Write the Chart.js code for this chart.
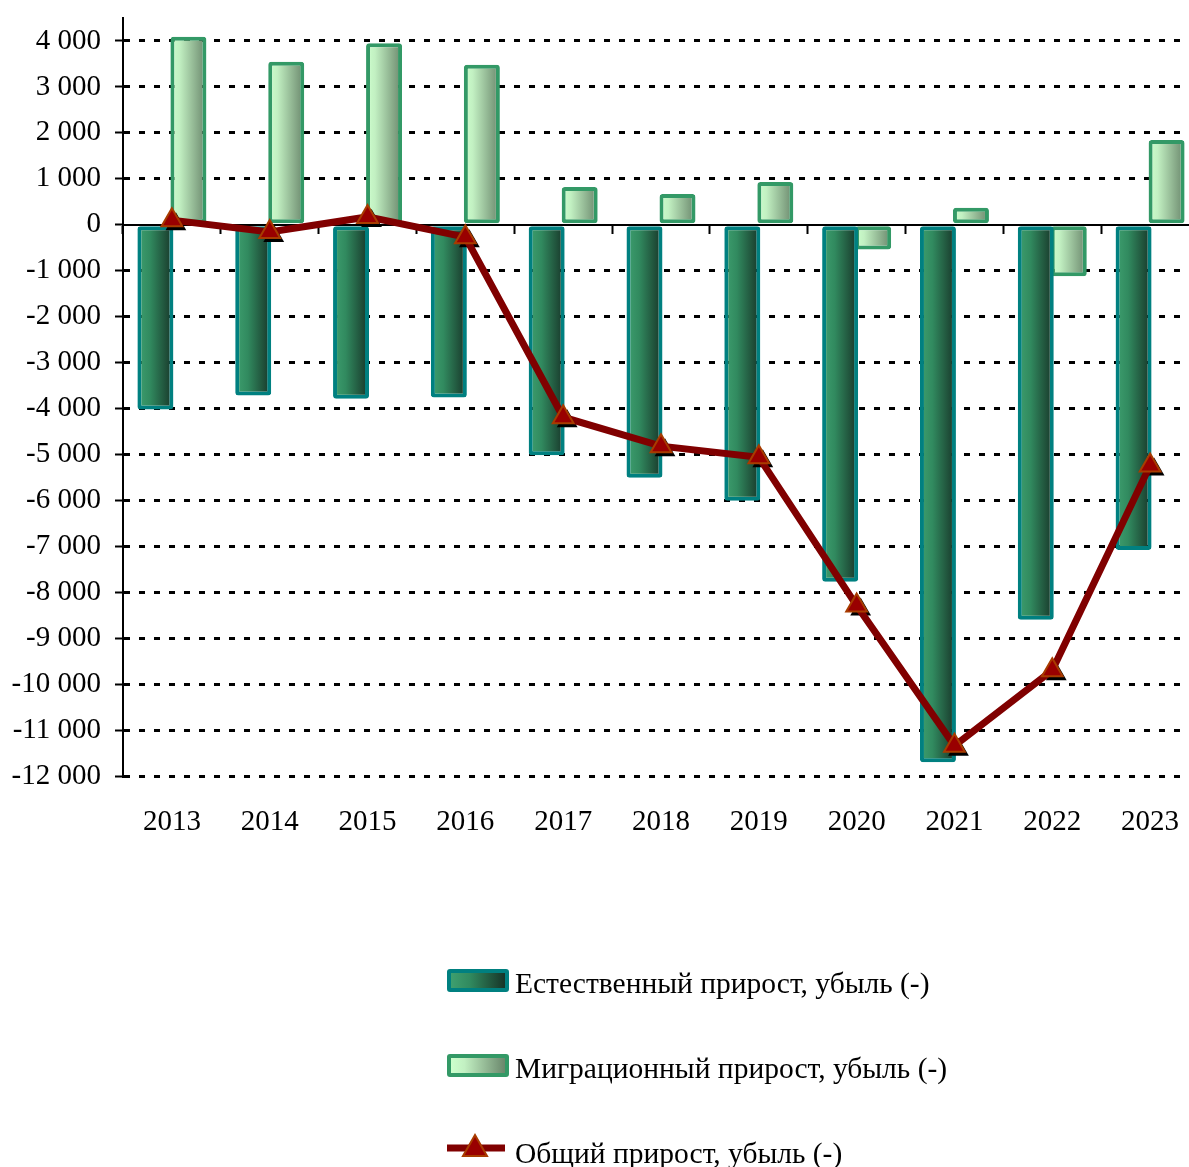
<!DOCTYPE html>
<html lang="ru">
<head>
<meta charset="utf-8">
<title>Прирост, убыль населения</title>
<script src="https://cdn.jsdelivr.net/npm/chart.js@4.4.1/dist/chart.umd.min.js"></script>
<style>
  html, body { margin: 0; padding: 0; background: #fff; overflow: hidden; }
  body { width: 1189px; height: 1167px; position: relative; font-family: 'Liberation Serif', 'Times New Roman', serif; }
  #chartBox { position: absolute; left: 0; top: 0; width: 1200px; height: 860px; }
  #legend { position: absolute; left: 0; top: 0; width: 1189px; height: 1167px; pointer-events: none; }
  .lg-swatch { position: absolute; box-sizing: border-box; border: 4px solid; border-radius: 3px; }
  .lg-text { position: absolute; font-size: 29.5px; line-height: 30px; color: #000; white-space: nowrap; }
  .lg-svg { position: absolute; overflow: visible; }
</style>
</head>
<body>
<div id="chartBox"><canvas id="chart" width="1200" height="860"></canvas></div>
<div id="legend"></div>
<script>
'use strict';

// ── Data ───────────────────────────────────────────────────────────────────────
const years = ['2013', '2014', '2015', '2016', '2017', '2018', '2019', '2020', '2021', '2022', '2023'];
const natural = [-4020, -3720, -3790, -3760, -5020, -5510, -6010, -7770, -11700, -8600, -7080];
const migration = [4090, 3550, 3950, 3480, 820, 670, 930, -540, 370, -1120, 1845];
const total = [100, -160, 170, -270, -4190, -4820, -5060, -8290, -11340, -9700, -5240];
const yTicks = [-12000, -11000, -10000, -9000, -8000, -7000, -6000, -5000, -4000, -3000, -2000, -1000, 0, 1000, 2000, 3000, 4000];
const seriesNames = [
  'Естественный прирост, убыль (-)',
  'Миграционный прирост, убыль (-)',
  'Общий прирост, убыль (-)'
];

// ── Style ──────────────────────────────────────────────────────────────────────
const FONT = "'Liberation Serif', 'Times New Roman', serif";
const FONT_SIZE = 29;
const NAT_STOPS = [[0, '#3e9f6f'], [0.35, '#318a5f'], [1, '#173428']];
const MIG_STOPS = [[0, '#ccffcc'], [0.25, '#c2f0c2'], [1, '#6a876c']];

function fmtThousands(v) {
  const s = Math.abs(v).toString().replace(/\B(?=(\d{3})+(?!\d))/g, ' ');
  return (v < 0 ? '-' : '') + s;
}

// horizontal gradient across each bar, once the bar has a position
function barGradient(stops, fallback) {
  return ctx => {
    const el = ctx.element;
    if (!el || el.x == null || !el.width) return fallback;
    const c = ctx.chart.ctx;
    const g = c.createLinearGradient(el.x - el.width / 2, 0, el.x + el.width / 2, 0);
    stops.forEach(([o, col]) => g.addColorStop(o, col));
    return g;
  };
}

function triPath(ctx, x, y, r) {
  ctx.beginPath();
  for (let k = 0; k < 3; k++) {
    const a = k * 2 * Math.PI / 3;
    const px = x + Math.sin(a) * r, py = y - Math.cos(a) * r;
    if (k === 0) ctx.moveTo(px, py); else ctx.lineTo(px, py);
  }
  ctx.closePath();
}

// black drop shadow under the triangle markers
const markerShadow = {
  id: 'markerShadow',
  beforeDatasetDraw(chart, args) {
    if (args.index !== 2) return;
    const ctx = chart.ctx;
    ctx.save();
    ctx.fillStyle = '#000';
    args.meta.data.forEach(pt => {
      triPath(ctx, pt.x + 4, pt.y + 4, 12);
      ctx.fill();
    });
    ctx.restore();
  }
};

// scales should not push the plot area in; layout.padding decides it
function noScalePadding(s) {
  s.paddingTop = 0; s.paddingBottom = 0; s.paddingLeft = 0; s.paddingRight = 0;
}

// ── Chart ──────────────────────────────────────────────────────────────────────
const chart = new Chart(document.getElementById('chart'), {
  type: 'bar',
  data: {
    labels: years,
    datasets: [
      {
        label: seriesNames[0],
        data: natural,
        xAxisID: 'x',
        order: 1,
        backgroundColor: barGradient(NAT_STOPS, '#2a7a52'),
        borderColor: '#008080',
        borderWidth: 4,
        borderRadius: 3,
        borderSkipped: false,
        categoryPercentage: 0.675,
        barPercentage: 1.09,
      },
      {
        label: seriesNames[1],
        data: migration,
        xAxisID: 'x',
        order: 1,
        backgroundColor: barGradient(MIG_STOPS, '#a8d8a8'),
        borderColor: '#339966',
        borderWidth: 4,
        borderRadius: 3,
        borderSkipped: false,
        categoryPercentage: 0.675,
        barPercentage: 1.09,
      },
      {
        type: 'line',
        label: seriesNames[2],
        data: total,
        xAxisID: 'x',
        order: 0,
        borderColor: '#800000',
        borderWidth: 7,
        tension: 0,
        pointStyle: 'triangle',
        pointRadius: 12,
        pointBackgroundColor: '#990000',
        pointBorderColor: '#a83c00',
        pointBorderWidth: 2,
      },
    ],
  },
  options: {
    responsive: false,
    animation: false,
    layout: { autoPadding: false, padding: { top: 18, right: 1, bottom: 0, left: 0 } },
    plugins: {
      legend: { display: false },
      tooltip: { enabled: false },
    },
    scales: {
      x: {
        type: 'category',
        position: 'bottom',
        offset: true,
        // invisible tick marks give the label gap without widening side padding
        grid: { display: false, drawTicks: true, tickLength: 29 },
        border: { display: false },
        ticks: {
          padding: 0,
          color: '#000',
          maxRotation: 0,
          autoSkip: false,
          font: { family: FONT, size: FONT_SIZE },
        },
        afterFit: s => { s.height = 84; noScalePadding(s); },
      },
      x0: {
        type: 'category',
        position: { y: 0 },
        offset: true,
        z: 1,
        grid: {
          display: true,
          offset: true,
          drawOnChartArea: false,
          drawTicks: true,
          tickLength: 8,
          tickColor: '#000',
          tickWidth: 2,
        },
        border: { display: true, color: '#000', width: 2 },
        ticks: { display: false },
        afterFit: noScalePadding,
      },
      y: {
        min: -12000,
        max: 4500,
        afterBuildTicks: s => { s.ticks = yTicks.map(v => ({ value: v })); },
        afterFit: s => { s.width = 123; noScalePadding(s); },
        border: { display: true, color: '#000', width: 2, dash: [6, 9] },
        grid: {
          color: c => (c.tick && c.tick.value === 0 ? 'rgba(0,0,0,0)' : '#000'),
          lineWidth: 3,
          drawTicks: true,
          tickLength: 8,
          tickColor: '#000',
          tickWidth: 2,
          tickBorderDash: [],
        },
        ticks: {
          padding: 14,
          color: '#000',
          font: { family: FONT, size: FONT_SIZE },
          callback: v => fmtThousands(v),
        },
      },
    },
  },
  plugins: [markerShadow],
});
// second pass so the bar gradients see the bar positions
chart.update();

// ── Legend ─────────────────────────────────────────────────────────────────────
function buildLegend() {
  const wrap = document.getElementById('legend');
  const rows = [
    { top: 969, kind: 'bar', stops: NAT_STOPS, border: '#008080' },
    { top: 1054, kind: 'bar', stops: MIG_STOPS, border: '#339966' },
    { top: 1139, kind: 'line' },
  ];
  rows.forEach((r, i) => {
    if (r.kind === 'bar') {
      const sw = document.createElement('div');
      sw.className = 'lg-swatch';
      sw.style.left = '447px';
      sw.style.top = r.top + 'px';
      sw.style.width = '62px';
      sw.style.height = '23px';
      sw.style.borderColor = r.border;
      sw.style.background = 'linear-gradient(to right, ' +
        r.stops.map(([o, c]) => `${c} ${o * 100}%`).join(', ') + ')';
      wrap.appendChild(sw);
    } else {
      const ns = 'http://www.w3.org/2000/svg';
      const svg = document.createElementNS(ns, 'svg');
      svg.setAttribute('class', 'lg-svg');
      svg.setAttribute('width', '60');
      svg.setAttribute('height', '24');
      svg.style.left = '447px';
      svg.style.top = (r.top - 3) + 'px';
      svg.innerHTML =
        '<line x1="0" y1="12" x2="58" y2="12" stroke="#800000" stroke-width="7"/>' +
        '<polygon points="28,-1 40,20 16,20" fill="#990000" stroke="#a83c00" stroke-width="2"/>';
      wrap.appendChild(svg);
    }
    const t = document.createElement('div');
    t.className = 'lg-text';
    t.style.left = '515px';
    t.style.top = (r.top - 1) + 'px';
    t.textContent = chart.data.datasets[i].label;
    wrap.appendChild(t);
  });
}
buildLegend();
</script>
</body>
</html>
